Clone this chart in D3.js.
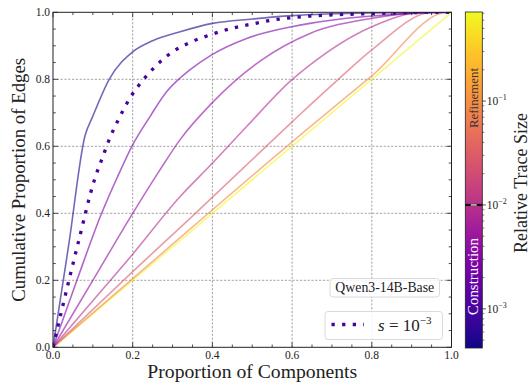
<!DOCTYPE html>
<html><head><meta charset="utf-8">
<script src="https://cdn.jsdelivr.net/npm/d3@7"></script>
<style>
html,body{margin:0;padding:0;background:#fff;}
</style></head>
<body><div id="chart"></div>
<script>
// ---- data ----
const traceSizes = [4.5e-4, 1e-3, 2.5e-3, 4e-3, 9e-3, 2.8e-2, 8e-2, 0.7];
const curve1 = [[0,0],[0.04,0.31],[0.08,0.63],[0.1,0.69],[0.141,0.8],[0.2,0.882],[0.25,0.915],[0.319,0.942],[0.4,0.967],[0.5,0.98],[0.6,0.99],[0.8,0.998],[1,1]];
const curve2 = [[0,0],[0.026,0.131],[0.0645,0.318],[0.105,0.504],[0.124,0.566],[0.143,0.626],[0.166,0.684],[0.191,0.74],[0.222,0.792],[0.259,0.841],[0.299,0.881],[0.348,0.912],[0.398,0.934],[0.448,0.952],[0.499,0.965],[0.552,0.977],[0.607,0.985],[0.662,0.99],[0.716,0.993],[0.77,0.995],[0.9,0.999],[1,1]];
const curve3 = [[0,0],[0.06,0.2],[0.122,0.4],[0.16,0.504],[0.198,0.6],[0.243,0.688],[0.285,0.763],[0.315,0.8],[0.34,0.825],[0.398,0.873],[0.486,0.922],[0.599,0.957],[0.645,0.967],[0.737,0.982],[0.862,0.994],[1,1]];
const curve4 = [[0,0],[0.1,0.2],[0.2,0.4],[0.268,0.529],[0.319,0.62],[0.398,0.728],[0.524,0.858],[0.645,0.937],[0.8,0.982],[0.95,1],[1,1]];
const curve5 = [[0,0],[0.1,0.139],[0.2,0.278],[0.319,0.45],[0.398,0.547],[0.486,0.659],[0.599,0.798],[0.645,0.843],[0.8,0.957],[0.93,1],[1,1]];
const curve6 = [[0,0],[0.2,0.226],[0.344,0.385],[0.6,0.673],[0.645,0.723],[0.716,0.8],[0.8,0.888],[0.953,1],[1,1]];
const curve7 = [[0,0],[0.2,0.205],[0.645,0.658],[0.8,0.81],[0.99,1],[1,1]];
const curve8 = [[0,0],[1,1]];
const curves = [curve1,curve2,curve3,curve4,curve5,curve6,curve7,curve8];
const highlighted = 1; // index of dotted s=1e-3 curve
const axisTicks = [0,0.2,0.4,0.6,0.8,1.0];
const cbTicks = [1e-3,1e-2,1e-1];
const cbDomain = [4.2e-4, 0.72];
const phaseSplit = 1e-2;
const modelName = "Qwen3-14B-Base";

// ---- layout ----
const FONT='"Liberation Serif", "DejaVu Serif", serif';
const W=532,H=383;
const m={l:53,r:451.5,t:12.3,b:347.3};
const svg=d3.select("#chart").append("svg").attr("width",W).attr("height",H)
  .attr("font-family",FONT).style("font-family",FONT);
const x=d3.scaleLinear().domain([0,1]).range([m.l,m.r]);
const y=d3.scaleLinear().domain([0,1]).range([m.b,m.t]);
const cNorm=d3.scaleLog().domain(cbDomain).range([0,1]).clamp(true);
const col=s=>d3.interpolatePlasma(cNorm(s));
function fit(sel,width){ // scale font so text spans the measured width
  const n=sel.node(); const fs=+sel.attr("font-size"); const w=n.getComputedTextLength();
  if(w>0) sel.attr("font-size",fs*width/w);
  return sel;
}
function T(parent){return parent.append("text").attr("font-family",FONT).attr("fill","#222");}

// grid
const g=svg.append("g");
[0.2,0.4,0.6,0.8].forEach(v=>{
  g.append("line").attr("x1",x(v)).attr("x2",x(v)).attr("y1",y(0)).attr("y2",y(1))
   .attr("stroke","#8a8a8a").attr("stroke-width",0.8).attr("stroke-dasharray","2.2,1.6");
  g.append("line").attr("y1",y(v)).attr("y2",y(v)).attr("x1",x(0)).attr("x2",x(1))
   .attr("stroke","#8a8a8a").attr("stroke-width",0.8).attr("stroke-dasharray","2.2,1.6");
});

// clip
svg.append("clipPath").attr("id","clip").append("rect").attr("x",m.l).attr("y",m.t).attr("width",m.r-m.l).attr("height",m.b-m.t);
const line=d3.line().x(d=>x(d[0])).y(d=>y(d[1])).curve(d3.curveMonotoneX);
const lg=svg.append("g").attr("clip-path","url(#clip)");
for(let i=curves.length-1;i>=0;i--){
  if(i===highlighted) continue;
  lg.append("path").attr("d",line(curves[i])).attr("fill","none")
    .attr("stroke",col(traceSizes[i])).attr("stroke-opacity",0.6).attr("stroke-width",1.6);
}
lg.append("path").attr("d",line(curves[highlighted])).attr("fill","none")
  .attr("stroke",col(traceSizes[highlighted])).attr("stroke-width",3.3).attr("stroke-dasharray","3.3,7.3");

// axes with inward ticks
const fmt=d3.format(".1f");
const minor=d3.range(0,1.0001,0.05);
const ax=svg.append("g");
minor.forEach(v=>{
  const major=axisTicks.some(t=>Math.abs(t-v)<1e-6);
  const L=major?5:2.8;
  ax.append("line").attr("x1",x(v)).attr("x2",x(v)).attr("y1",m.b).attr("y2",m.b-L).attr("stroke","#222").attr("stroke-width",0.8);
  ax.append("line").attr("x1",x(v)).attr("x2",x(v)).attr("y1",m.t).attr("y2",m.t+L).attr("stroke","#222").attr("stroke-width",0.8);
  ax.append("line").attr("y1",y(v)).attr("y2",y(v)).attr("x1",m.l).attr("x2",m.l+L).attr("stroke","#222").attr("stroke-width",0.8);
  ax.append("line").attr("y1",y(v)).attr("y2",y(v)).attr("x1",m.r).attr("x2",m.r-L).attr("stroke","#222").attr("stroke-width",0.8);
});
ax.append("rect").attr("x",m.l).attr("y",m.t).attr("width",m.r-m.l).attr("height",m.b-m.t).attr("fill","none").attr("stroke","#222").attr("stroke-width",1);
axisTicks.forEach(v=>{
  T(ax).attr("x",x(v)).attr("y",m.b+12).attr("text-anchor","middle").attr("font-size",11.5).text(fmt(v));
  T(ax).attr("x",m.l-3).attr("y",y(v)+3.8).attr("text-anchor","end").attr("font-size",11.5).text(fmt(v));
});
fit(T(svg).attr("x",(m.l+m.r)/2).attr("y",378).attr("text-anchor","middle").attr("font-size",18).text("Proportion of Components"),210);
fit(T(svg).attr("transform",`translate(25,${(m.t+m.b)/2}) rotate(-90)`).attr("text-anchor","middle").attr("font-size",18).text("Cumulative Proportion of Edges"),244);

// legend boxes
const lb=svg.append("g");
lb.append("rect").attr("x",330).attr("y",278.5).attr("width",109.5).attr("height",18.5).attr("rx",3)
  .attr("fill","#fff").attr("fill-opacity",0.85).attr("stroke","#d0d0d0").attr("stroke-width",0.8);
fit(T(lb).attr("x",384.8).attr("y",292).attr("text-anchor","middle").attr("font-size",12).text(modelName),99);
lb.append("rect").attr("x",325).attr("y",311.5).attr("width",117.5).attr("height",28).attr("rx",3)
  .attr("fill","#fff").attr("fill-opacity",0.85).attr("stroke","#d0d0d0").attr("stroke-width",0.8);
lb.append("line").attr("x1",331.5).attr("x2",364).attr("y1",324.5).attr("y2",324.5)
  .attr("stroke",col(traceSizes[highlighted])).attr("stroke-width",3.3).attr("stroke-dasharray","3.3,7.3");
const lt=T(lb).attr("x",378).attr("y",331).attr("font-size",17);
lt.append("tspan").attr("font-style","italic").text("s");
lt.append("tspan").text(" = 10");
lt.append("tspan").attr("font-size",11).attr("dy",-7).text("−3");

// colorbar
const cb={x:465.3,w:17,t:12,b:348};
const cy=d3.scaleLog().domain(cbDomain).range([cb.b,cb.t]);
const defs=svg.append("defs");
const grad=defs.append("linearGradient").attr("id","cbg").attr("x1",0).attr("y1",1).attr("x2",0).attr("y2",0);
d3.range(0,1.0001,0.05).forEach(t=>grad.append("stop").attr("offset",t).attr("stop-color",d3.interpolatePlasma(t)));
svg.append("rect").attr("x",cb.x).attr("y",cb.t).attr("width",cb.w).attr("height",cb.b-cb.t).attr("fill","url(#cbg)").attr("stroke","#222").attr("stroke-width",0.8);
const cbMinor=[];
[1e-4,1e-3,1e-2,1e-1].forEach(d=>{for(let k=2;k<10;k++){const v=d*k; if(v>=cbDomain[0]&&v<=cbDomain[1]) cbMinor.push(v);}});
cbMinor.forEach(v=>svg.append("line").attr("x1",cb.x+cb.w).attr("x2",cb.x+cb.w+2).attr("y1",cy(v)).attr("y2",cy(v)).attr("stroke","#222").attr("stroke-width",0.6));
cbTicks.forEach(v=>{
  svg.append("line").attr("x1",cb.x+cb.w).attr("x2",cb.x+cb.w+3.5).attr("y1",cy(v)).attr("y2",cy(v)).attr("stroke","#222").attr("stroke-width",0.8);
  const t=T(svg).attr("x",cb.x+cb.w+4.5).attr("y",cy(v)+3.8).attr("font-size",11.5);
  t.append("tspan").text("10");
  t.append("tspan").attr("font-size",8).attr("dy",-4.8).text("−"+Math.round(-Math.log10(v)));
});
// phase split marker
svg.append("line").attr("x1",cb.x).attr("x2",cb.x+cb.w).attr("y1",cy(phaseSplit)).attr("y2",cy(phaseSplit)).attr("stroke","#111").attr("stroke-width",2.2);
svg.append("line").attr("x1",cb.x+5.5).attr("x2",cb.x+cb.w-5.5).attr("y1",cy(phaseSplit)).attr("y2",cy(phaseSplit)).attr("stroke","#fff").attr("stroke-width",1.2);
fit(T(svg).attr("transform",`translate(${cb.x+cb.w/2+4.5},98) rotate(-90)`).attr("text-anchor","middle").attr("font-size",13).attr("fill","#333").text("Refinement"),60);
fit(T(svg).attr("transform",`translate(${cb.x+cb.w/2+4.5},276.5) rotate(-90)`).attr("text-anchor","middle").attr("font-size",13).attr("fill","#fff").text("Construction"),77);
fit(T(svg).attr("transform",`translate(${526.5},183) rotate(-90)`).attr("text-anchor","middle").attr("font-size",15).text("Relative Trace Size"),140);
</script></body></html>
